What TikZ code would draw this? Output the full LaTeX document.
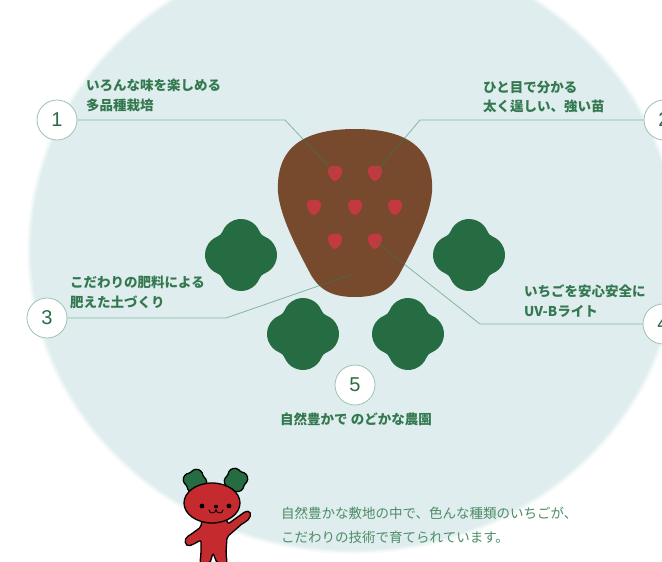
\documentclass[tikz,border=0pt]{standalone}
\usepackage{fontspec}
\setmainfont{Liberation Sans}
\newfontfamily\jp{Noto Sans CJK JP}
\usetikzlibrary{calc}

\definecolor{fieldblue}{HTML}{DFEDEE}
\definecolor{soilbrown}{HTML}{774A2E}
\definecolor{berryred}{HTML}{C23A3F}
\definecolor{leafgreen}{HTML}{266C42}
\definecolor{ringgreen}{HTML}{9CC4B0}
\definecolor{digitgreen}{HTML}{2D6B46}
\definecolor{labelgreen}{HTML}{347850}
\definecolor{bodygreen}{HTML}{4C8C66}
\definecolor{leadgreen}{HTML}{2E7D5B}
\definecolor{mascotred}{HTML}{C42A2E}

\tikzset{
  numcirc/.style={circle, draw=ringgreen, line width=0.8pt, fill=white,
    minimum size=40pt, inner sep=0pt, text=digitgreen,
    font=\fontsize{20}{20}\selectfont},
  leader/.style={draw=leadgreen, draw opacity=0.5, line width=0.8pt},
  pointlabel/.style={font=\jp\bfseries\fontsize{13.5}{19.5}\selectfont,
    text=labelgreen, align=left, inner sep=0pt, anchor=west},
  bodytext/.style={font=\jp\fontsize{13.5}{24}\selectfont,
    text=bodygreen, align=left, inner sep=0pt, anchor=west},
  mascot/.style={fill=mascotred, draw=black, line width=1.3pt,
    line join=round},
  % four-lobed leaf, 72 units across: lobes of radius 20 joined by fillets
  pics/leaf/.style={code={
    \path[pic actions] (-18.65,23.22)
      arc[start angle=158.83, end angle=21.17, radius=20]
      arc[start angle=201.17, end angle=248.83, radius=8]
      arc[start angle=68.83, end angle=-68.83, radius=20]
      arc[start angle=111.17, end angle=158.83, radius=8]
      arc[start angle=-21.17, end angle=-158.83, radius=20]
      arc[start angle=21.17, end angle=68.83, radius=8]
      arc[start angle=248.83, end angle=111.17, radius=20]
      arc[start angle=-68.83, end angle=-21.17, radius=8] -- cycle;
  }},
  % small strawberry, point down
  pics/berry/.style={code={
    \fill[berryred] (0,-7) .. controls (5,-8) and (7.5,-5) .. (7,-1)
      .. controls (6.5,3) and (3,8) .. (0,8)
      .. controls (-3,8) and (-6.5,3) .. (-7,-1)
      .. controls (-7.5,-5) and (-5,-8) .. (0,-7) -- cycle;
  }}
}

\begin{document}
\begin{tikzpicture}[x=1pt, y=-1pt]
\useasboundingbox (0,0) rectangle (662,562);
\fill[white] (0,0) rectangle (662,562);

% the field, with a soft rim
\fill[fieldblue, opacity=0.25] (353,250) ellipse [x radius=326, y radius=304];
\fill[fieldblue, opacity=0.5] (353,250) ellipse [x radius=324, y radius=302];
\fill[fieldblue] (353,250) ellipse [x radius=322, y radius=300];

% seedling tray
\fill[soilbrown] (355,129) .. controls (410,129) and (434,150) .. (432,192)
  .. controls (430,216) and (414,247) .. (399,275)
  .. controls (389,292) and (375,297) .. (355,297)
  .. controls (335,297) and (321,292) .. (311,275)
  .. controls (296,247) and (280,216) .. (278,192)
  .. controls (276,150) and (300,129) .. (355,129) -- cycle;

\coordinate (b1) at (335,173);
\coordinate (b2) at (375,173);
\coordinate (b3) at (314,207);
\coordinate (b4) at (355,207);
\coordinate (b5) at (395,207);
\coordinate (b6) at (335,241);
\coordinate (b7) at (375,241);
\foreach \b in {b1,b2,b3,b4,b5,b6,b7} \pic at (\b) {berry};

% leaves around the tray
\pic[fill=leafgreen] at (241,255) {leaf};
\pic[fill=leafgreen] at (469,255) {leaf};
\pic[fill=leafgreen] at (303,334) {leaf};
\pic[fill=leafgreen] at (408,334) {leaf};

% numbered markers
\node[numcirc] (n1) at (57,120) {1};
\node[numcirc] (n2) at (664,120) {2};
\node[numcirc] (n3) at (47,318) {3};
\node[numcirc] (n4) at (663,324) {4};
\node[numcirc] (n5) at (355,385) {5};

% leader lines
\coordinate (k1) at (285,120);
\coordinate (k2) at (420,120);
\coordinate (k3) at (226,318);
\coordinate (e3) at (353,274);
\coordinate (k4) at (480,324);
\draw[leader] (n1) -- (k1) -- (b1);
\draw[leader] (n2) -- (k2) -- (b2);
\draw[leader] (n3) -- (k3) -- (e3);
\draw[leader] (n4) -- (k4) -- (b7);

% captions
\node[pointlabel] (t1) at (86,95.5) {いろんな味を楽しめる\\多品種栽培};
\node[pointlabel] (t2) at (483,97) {ひと目で分かる\\太く逞しい、強い苗};
\node[pointlabel] (t3) at (70,292.5) {こだわりの肥料による\\肥えた土づくり};
\node[pointlabel] (t4) at (524,301) {いちごを安心安全に\\UV-Bライト};
\node[pointlabel, anchor=center] (t5) at (356,419) {自然豊かで のどかな農園};

% mascot
\pic[fill=leafgreen, draw=black, line width=1.3pt, scale=0.33, rotate=-15] at (195,481) {leaf};
\pic[fill=leafgreen, draw=black, line width=1.3pt, scale=0.33, rotate=15] at (236,480) {leaf};
\path[mascot, rounded corners=2pt] (202,518) -- (201,527) -- (190,535)
  .. controls (183,539) and (185,547) .. (192,545) -- (201,540)
  -- (201,553) -- (200,563) -- (210,563) -- (213,553) -- (217,563)
  -- (227,563) -- (226,553) -- (227,537) -- (243,523)
  .. controls (250,520) and (253,512) .. (246,511) -- (228,524)
  -- (226,518) -- cycle;
\path[mascot] (212,503) ellipse [x radius=28, y radius=20];
\fill (202,506) circle [radius=2.4];
\fill (229,506) circle [radius=2.4];
\fill (216,506.5) ellipse [x radius=2.2, y radius=1.6];
\draw[line width=0.9pt, line cap=round] (209,510)
  .. controls (209.5,514) and (215.5,514) .. (216,509.5)
  .. controls (216.5,514) and (222.5,514) .. (223,510);

\node[bodytext] (body) at (281,525)
  {自然豊かな敷地の中で、色んな種類のいちごが、\\こだわりの技術で育てられています。};
\end{tikzpicture}
\end{document}
